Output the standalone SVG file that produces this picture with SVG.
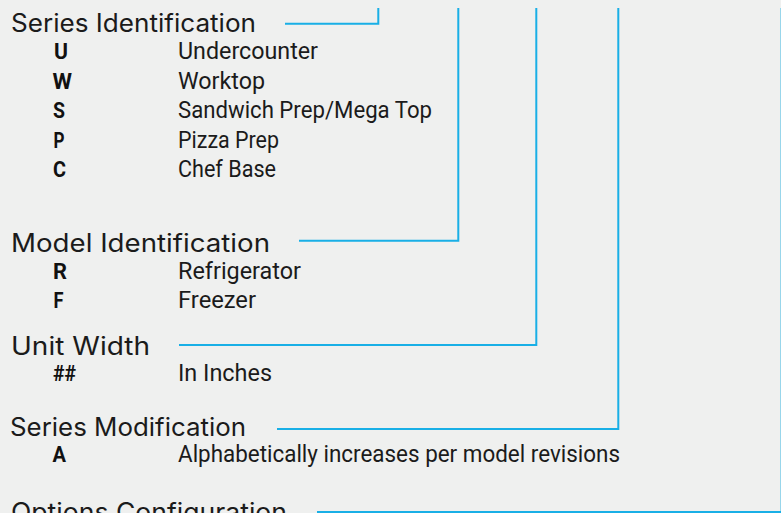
<svg xmlns="http://www.w3.org/2000/svg" width="781" height="513" viewBox="0 0 781 513">
<style>
.h{font-family:Inter,"Open Sans","Liberation Sans",sans-serif;font-size:25px;font-weight:400;fill:#1b1b1b}
.k{font-family:Roboto,"Liberation Sans",sans-serif;font-size:22.5px;font-weight:700;fill:#111}
.d{font-family:Roboto,"Liberation Sans",sans-serif;font-size:23px;font-weight:400;fill:#1b1b1b}
.c{fill:none;stroke:#19afe6;stroke-width:2}
</style>
<rect x="0" y="0" width="781" height="513" fill="#eff0ef"/>
<g id="connectors">
<polyline class="c" points="285,23.7 378.3,23.7 378.3,8"/>
<polyline class="c" points="299,240.7 458.3,240.7 458.3,8"/>
<polyline class="c" points="179,345 536.3,345 536.3,8"/>
<polyline class="c" points="277,429 618.3,429 618.3,8"/>
<polyline class="c" points="317,512 781.6,512 781.6,8"/>
</g>
<g id="series-identification">
<text class="h" x="11" y="32" textLength="245" lengthAdjust="spacingAndGlyphs">Series Identification</text>
<text class="k" x="54" y="59" textLength="14" lengthAdjust="spacingAndGlyphs">U</text>
<text class="d" x="178" y="59" textLength="140" lengthAdjust="spacingAndGlyphs">Undercounter</text>
<text class="k" x="52.5" y="88.5" textLength="19.5" lengthAdjust="spacingAndGlyphs">W</text>
<text class="d" x="178" y="88.5" textLength="87" lengthAdjust="spacingAndGlyphs">Worktop</text>
<text class="k" x="53" y="118" textLength="12" lengthAdjust="spacingAndGlyphs">S</text>
<text class="d" x="178" y="118" textLength="254" lengthAdjust="spacingAndGlyphs">Sandwich Prep/Mega Top</text>
<text class="k" x="53.5" y="147.5" textLength="11" lengthAdjust="spacingAndGlyphs">P</text>
<text class="d" x="178" y="147.5" textLength="101" lengthAdjust="spacingAndGlyphs">Pizza Prep</text>
<text class="k" x="53" y="177" textLength="13" lengthAdjust="spacingAndGlyphs">C</text>
<text class="d" x="178" y="177" textLength="98" lengthAdjust="spacingAndGlyphs">Chef Base</text>
</g>
<g id="model-identification">
<text class="h" x="11" y="252" textLength="259" lengthAdjust="spacingAndGlyphs">Model Identification</text>
<text class="k" x="53" y="279" textLength="14" lengthAdjust="spacingAndGlyphs">R</text>
<text class="d" x="178" y="279" textLength="123" lengthAdjust="spacingAndGlyphs">Refrigerator</text>
<text class="k" x="53.5" y="307.5" textLength="10" lengthAdjust="spacingAndGlyphs">F</text>
<text class="d" x="178" y="307.5" textLength="78" lengthAdjust="spacingAndGlyphs">Freezer</text>
</g>
<g id="unit-width">
<text class="h" x="11" y="355" textLength="139" lengthAdjust="spacingAndGlyphs">Unit Width</text>
<text class="k" x="53" y="381" textLength="23" lengthAdjust="spacingAndGlyphs">##</text>
<text class="d" x="178" y="381" textLength="94" lengthAdjust="spacingAndGlyphs">In Inches</text>
</g>
<g id="series-modification">
<text class="h" x="10" y="436" textLength="236" lengthAdjust="spacingAndGlyphs">Series Modification</text>
<text class="k" x="52.5" y="462" textLength="13.5" lengthAdjust="spacingAndGlyphs">A</text>
<text class="d" x="178" y="462" textLength="442" lengthAdjust="spacingAndGlyphs">Alphabetically increases per model revisions</text>
</g>
<g id="options-configuration">
<text class="h" x="11" y="521" textLength="276" lengthAdjust="spacingAndGlyphs">Options Configuration</text>
</g>
</svg>
